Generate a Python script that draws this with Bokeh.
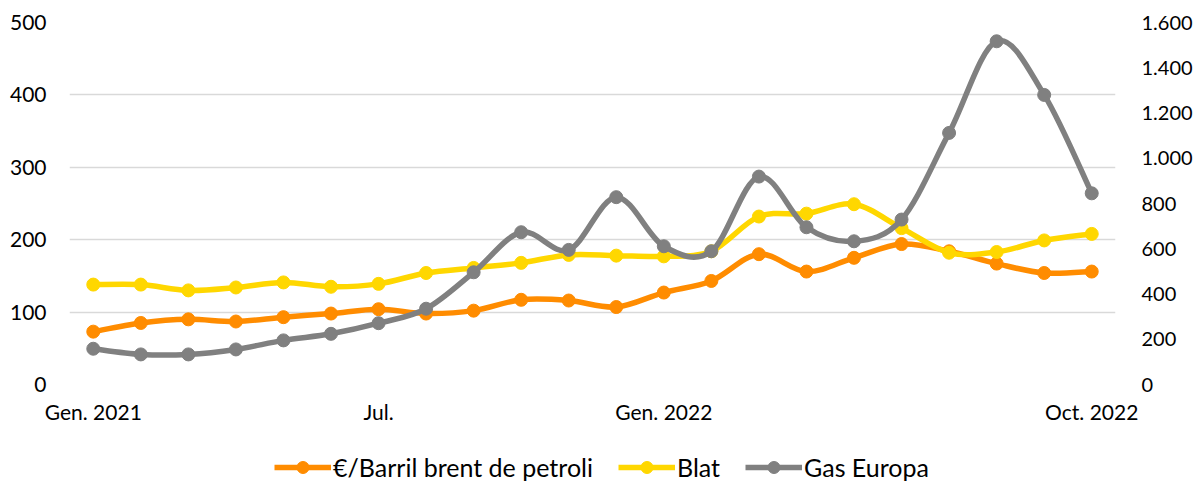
from bokeh.plotting import figure
from bokeh.layouts import column
from bokeh.models import (ColumnDataSource, Range1d, LinearAxis, FixedTicker,
                          Legend, LegendItem, CustomJSTickFormatter)
from bokeh.embed import file_html
from bokeh.resources import INLINE

# ---- data ----
months = list(range(22))  # Gen. 2021 .. Oct. 2022
tick_pos = [0, 6, 12, 21]
tick_labels = ["Gen. 2021", "Jul.", "Gen. 2022", "Oct. 2022"]

brent = [73, 85, 90, 87, 93, 98, 104, 98, 102, 117, 116, 107, 127, 143, 180,
         156, 175, 194, 184, 167, 154, 156]
blat = [138, 138, 130, 134, 141, 135, 139, 154, 161, 168, 179, 178, 177, 184, 232,
        236, 249, 216, 182, 183, 199, 208]
gas = [158, 133, 133, 155, 195, 224, 271, 335, 496, 673, 595, 828, 611, 589, 919,
       695, 633, 729, 1112, 1517, 1280, 845]

names = ["€/Barril brent de petroli", "Blat", "Gas Europa"]
colors = ["#FF8C00", "#FFD700", "#808080"]

FONT = "Lato"

p = figure(frame_width=1046, frame_height=362, output_backend="svg",
           toolbar_location=None, x_range=Range1d(-0.5, 21.5),
           y_range=Range1d(0, 500), min_border_left=69, min_border_right=79,
           min_border_top=22, min_border_bottom=68)
p.outline_line_color = None
p.background_fill_color = "white"
p.border_fill_color = "white"

p.extra_y_ranges = {"gas": Range1d(0, 1600)}


def smooth(xs, ys):
    n = len(xs)
    t = 1.0 / 6.0
    d = dict(x0=[], y0=[], x1=[], y1=[], cx0=[], cy0=[], cx1=[], cy1=[])
    for i in range(n - 1):
        xm, ym = (xs[i - 1], ys[i - 1]) if i > 0 else (xs[i], ys[i])
        xp, yp = (xs[i + 2], ys[i + 2]) if i + 2 < n else (xs[i + 1], ys[i + 1])
        d["x0"].append(xs[i]); d["y0"].append(ys[i])
        d["x1"].append(xs[i + 1]); d["y1"].append(ys[i + 1])
        d["cx0"].append(xs[i] + t * (xs[i + 1] - xm))
        d["cy0"].append(ys[i] + t * (ys[i + 1] - ym))
        d["cx1"].append(xs[i + 1] - t * (xp - xs[i]))
        d["cy1"].append(ys[i + 1] - t * (yp - ys[i]))
    return ColumnDataSource(d)


series = [brent, blat, gas]
for vals, col, rng in zip(series, colors, ["default", "default", "gas"]):
    src = smooth(months, vals)
    p.bezier(x0="x0", y0="y0", x1="x1", y1="y1", cx0="cx0", cy0="cy0",
             cx1="cx1", cy1="cy1", source=src, line_color=col, line_width=5.5,
             line_cap="round", y_range_name=rng)
    p.scatter(months, vals, size=13, marker="circle", fill_color=col,
              line_color=col, y_range_name=rng)

# axes
p.xaxis.ticker = FixedTicker(ticks=tick_pos)
p.xaxis.major_label_overrides = {k: v for k, v in zip(tick_pos, tick_labels)}
p.xaxis.axis_line_color = None
p.xaxis.major_tick_line_color = None
p.xaxis.minor_tick_line_color = None
p.xaxis.major_label_standoff = 8
p.xgrid.grid_line_color = None

p.yaxis.ticker = FixedTicker(ticks=[0, 100, 200, 300, 400, 500])
p.yaxis.axis_line_color = None
p.yaxis.major_tick_line_color = None
p.yaxis.minor_tick_line_color = None
p.yaxis.major_label_standoff = 17
p.ygrid.grid_line_color = "#D9D9D9"
p.ygrid.grid_line_width = 1.5

right = LinearAxis(y_range_name="gas",
                   ticker=FixedTicker(ticks=[0, 200, 400, 600, 800, 1000, 1200, 1400, 1600]))
right.formatter = CustomJSTickFormatter(code="""
    return tick.toString().replace(/\\B(?=(\\d{3})+(?!\\d))/g, '.');
""")
right.axis_line_color = None
right.major_tick_line_color = None
right.minor_tick_line_color = None
right.major_label_standoff = 20
p.add_layout(right, "right")

for ax in [p.xaxis[0], p.yaxis[0]]:
    ax.major_label_text_font = FONT
    ax.major_label_text_font_size = "21px"
    ax.major_label_text_color = "#000000"
right.major_label_text_font = FONT
right.major_label_text_font_size = "20px"
right.major_label_text_color = "#000000"

# ---- legend strip (its glyphs sit outside this strip's visible range) ----
lg = figure(width=1194, height=30, output_backend="svg", toolbar_location=None,
            x_range=Range1d(-1000, -999), y_range=Range1d(-1000, -999), min_border=0)
lg.axis.visible = False
lg.grid.visible = False
lg.outline_line_color = None
items = []
for vals, name, col in zip(series, names, colors):
    ln = lg.line(months, vals, line_color=col, line_width=5.5)
    mk = lg.scatter(months, vals, marker="circle", size=13, fill_color=col, line_color=col)
    items.append(LegendItem(label=name, renderers=[ln, mk]))

legend = Legend(items=items, orientation="horizontal", location=(205, 0),
                label_text_font=FONT, label_text_font_size="25px",
                label_text_color="#000000", glyph_width=57, glyph_height=30,
                spacing=25, border_line_color=None, background_fill_alpha=0,
                label_standoff=2, padding=0, margin=0)
lg.add_layout(legend, "center")

layout = column(p, lg, spacing=0)
open("out.html", "w").write(file_html(layout, INLINE))
